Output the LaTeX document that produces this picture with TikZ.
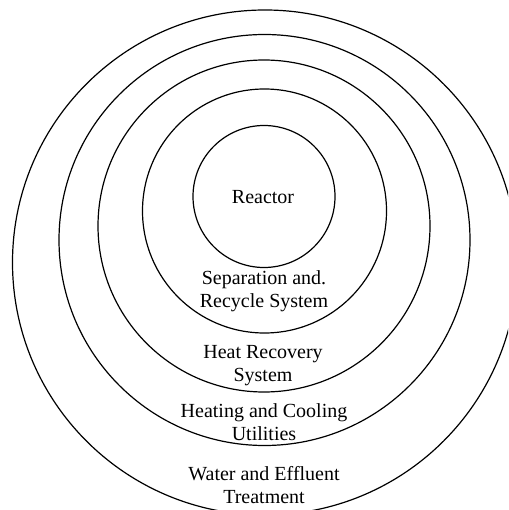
\documentclass[tikz,border=0pt]{standalone}
\usepackage{fontspec}
\setmainfont{Liberation Serif}
\begin{document}
\begin{tikzpicture}[x=1pt,y=-1pt,
  ring/.style={draw=black,line width=1.2pt,circle,inner sep=0pt},
  lbl/.style={align=center,font=\fontsize{20}{23}\selectfont,inner sep=0pt}]
\useasboundingbox (0,0) rectangle (508,510);
\clip (0,0) rectangle (508,510);
\fill[white] (0,0) rectangle (508,510);
\node[ring,minimum size=505pt] (c5) at (265,262.5) {};
\node[ring,minimum size=411pt] (c4) at (264.5,240) {};
\node[ring,minimum size=332pt] (c3) at (264,226) {};
\node[ring,minimum size=244pt] (c2) at (264.5,211) {};
\node[ring,minimum size=142pt] (c1) at (264,196.5) {};
\node[lbl] (reactor) at (263,197) {Reactor};
\node[lbl] (sep) at (264,291.5) {Separation and.\\Recycle System};
\node[lbl] (heat) at (263,366) {Heat Recovery\\System};
\node[lbl] (util) at (264,422.5) {Heating and Cooling\\Utilities};
\node[lbl] (water) at (264,485) {Water and Effluent\\Treatment};
\end{tikzpicture}
\end{document}
